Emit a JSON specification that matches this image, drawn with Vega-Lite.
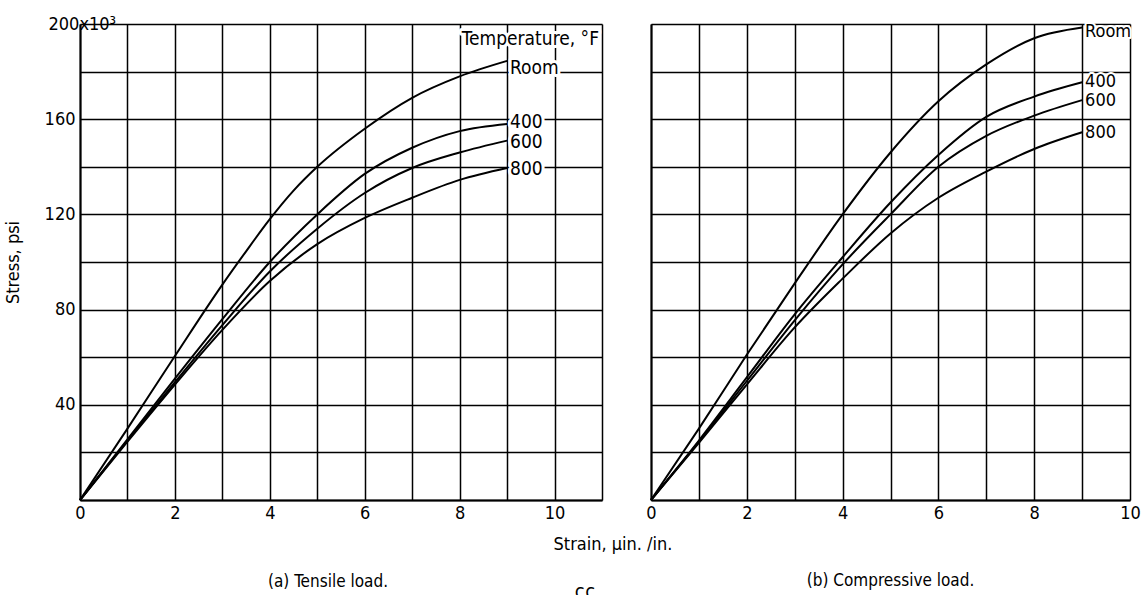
{
  "$schema": "https://vega.github.io/schema/vega-lite/v6.json",
  "background": "white",
  "padding": {"left": 4, "top": 15, "right": 5, "bottom": 0},
  "config": {
    "font": "Liberation Sans Narrow, DejaVu Sans Condensed, sans-serif",
    "view": {"stroke": null},
    "axis": {
      "grid": true,
      "gridColor": "black",
      "gridOpacity": 1,
      "gridWidth": 1.5,
      "domainColor": "black",
      "domainWidth": 2,
      "ticks": false,
      "tickSize": 0,
      "labelColor": "black",
      "labelFontSize": 18,
      "labelFlush": false,
      "labelOverlap": false,
      "titleColor": "black",
      "titleFontSize": 18,
      "titleFontWeight": "normal"
    },
    "title": {"fontWeight": "normal", "color": "black"}
  },
  "datasets": {
    "curves": [
      {"panel": "a", "temp": "Room", "strain": 0, "stress": 0},
      {"panel": "a", "temp": "Room", "strain": 1, "stress": 30},
      {"panel": "a", "temp": "Room", "strain": 2, "stress": 60.5},
      {"panel": "a", "temp": "Room", "strain": 3, "stress": 90.5},
      {"panel": "a", "temp": "Room", "strain": 3.5, "stress": 104.5},
      {"panel": "a", "temp": "Room", "strain": 4, "stress": 118},
      {"panel": "a", "temp": "Room", "strain": 4.5, "stress": 130},
      {"panel": "a", "temp": "Room", "strain": 5, "stress": 140},
      {"panel": "a", "temp": "Room", "strain": 6, "stress": 156},
      {"panel": "a", "temp": "Room", "strain": 7, "stress": 169},
      {"panel": "a", "temp": "Room", "strain": 8, "stress": 178},
      {"panel": "a", "temp": "Room", "strain": 9, "stress": 184.5},
      {"panel": "a", "temp": "400", "strain": 0, "stress": 0},
      {"panel": "a", "temp": "400", "strain": 1, "stress": 25.5},
      {"panel": "a", "temp": "400", "strain": 2, "stress": 51},
      {"panel": "a", "temp": "400", "strain": 3, "stress": 76},
      {"panel": "a", "temp": "400", "strain": 4, "stress": 100},
      {"panel": "a", "temp": "400", "strain": 5, "stress": 120},
      {"panel": "a", "temp": "400", "strain": 6, "stress": 137},
      {"panel": "a", "temp": "400", "strain": 7, "stress": 148},
      {"panel": "a", "temp": "400", "strain": 8, "stress": 155},
      {"panel": "a", "temp": "400", "strain": 9, "stress": 158},
      {"panel": "a", "temp": "600", "strain": 0, "stress": 0},
      {"panel": "a", "temp": "600", "strain": 1, "stress": 25},
      {"panel": "a", "temp": "600", "strain": 2, "stress": 49.5},
      {"panel": "a", "temp": "600", "strain": 3, "stress": 73.5},
      {"panel": "a", "temp": "600", "strain": 4, "stress": 96},
      {"panel": "a", "temp": "600", "strain": 5, "stress": 114},
      {"panel": "a", "temp": "600", "strain": 6, "stress": 129},
      {"panel": "a", "temp": "600", "strain": 7, "stress": 139.5},
      {"panel": "a", "temp": "600", "strain": 8, "stress": 146},
      {"panel": "a", "temp": "600", "strain": 9, "stress": 151},
      {"panel": "a", "temp": "800", "strain": 0, "stress": 0},
      {"panel": "a", "temp": "800", "strain": 1, "stress": 24.5},
      {"panel": "a", "temp": "800", "strain": 2, "stress": 48.5},
      {"panel": "a", "temp": "800", "strain": 3, "stress": 71.5},
      {"panel": "a", "temp": "800", "strain": 4, "stress": 92},
      {"panel": "a", "temp": "800", "strain": 5, "stress": 107.5},
      {"panel": "a", "temp": "800", "strain": 6, "stress": 118.5},
      {"panel": "a", "temp": "800", "strain": 7, "stress": 127},
      {"panel": "a", "temp": "800", "strain": 8, "stress": 134.5},
      {"panel": "a", "temp": "800", "strain": 9, "stress": 139.5},
      {"panel": "b", "temp": "Room", "strain": 0, "stress": 0},
      {"panel": "b", "temp": "Room", "strain": 1, "stress": 30},
      {"panel": "b", "temp": "Room", "strain": 2, "stress": 61},
      {"panel": "b", "temp": "Room", "strain": 3, "stress": 91},
      {"panel": "b", "temp": "Room", "strain": 4, "stress": 120},
      {"panel": "b", "temp": "Room", "strain": 5, "stress": 146},
      {"panel": "b", "temp": "Room", "strain": 6, "stress": 167.5},
      {"panel": "b", "temp": "Room", "strain": 7, "stress": 183},
      {"panel": "b", "temp": "Room", "strain": 8, "stress": 194},
      {"panel": "b", "temp": "Room", "strain": 9, "stress": 198.5},
      {"panel": "b", "temp": "400", "strain": 0, "stress": 0},
      {"panel": "b", "temp": "400", "strain": 1, "stress": 25},
      {"panel": "b", "temp": "400", "strain": 2, "stress": 51.5},
      {"panel": "b", "temp": "400", "strain": 3, "stress": 78},
      {"panel": "b", "temp": "400", "strain": 4, "stress": 102},
      {"panel": "b", "temp": "400", "strain": 5, "stress": 125},
      {"panel": "b", "temp": "400", "strain": 6, "stress": 145},
      {"panel": "b", "temp": "400", "strain": 7, "stress": 161},
      {"panel": "b", "temp": "400", "strain": 8, "stress": 169.5},
      {"panel": "b", "temp": "400", "strain": 9, "stress": 175.5},
      {"panel": "b", "temp": "600", "strain": 0, "stress": 0},
      {"panel": "b", "temp": "600", "strain": 1, "stress": 24.5},
      {"panel": "b", "temp": "600", "strain": 2, "stress": 50},
      {"panel": "b", "temp": "600", "strain": 3, "stress": 75.5},
      {"panel": "b", "temp": "600", "strain": 4, "stress": 99},
      {"panel": "b", "temp": "600", "strain": 5, "stress": 120},
      {"panel": "b", "temp": "600", "strain": 6, "stress": 140},
      {"panel": "b", "temp": "600", "strain": 7, "stress": 153},
      {"panel": "b", "temp": "600", "strain": 8, "stress": 161.5},
      {"panel": "b", "temp": "600", "strain": 9, "stress": 168},
      {"panel": "b", "temp": "800", "strain": 0, "stress": 0},
      {"panel": "b", "temp": "800", "strain": 1, "stress": 24},
      {"panel": "b", "temp": "800", "strain": 2, "stress": 48.5},
      {"panel": "b", "temp": "800", "strain": 3, "stress": 72.5},
      {"panel": "b", "temp": "800", "strain": 4, "stress": 93},
      {"panel": "b", "temp": "800", "strain": 5, "stress": 112},
      {"panel": "b", "temp": "800", "strain": 6, "stress": 127},
      {"panel": "b", "temp": "800", "strain": 7, "stress": 138},
      {"panel": "b", "temp": "800", "strain": 8, "stress": 147.5},
      {"panel": "b", "temp": "800", "strain": 9, "stress": 154.5}
    ],
    "labels": [
      {"panel": "a", "temp": "Room", "strain": 9, "stress": 181.7},
      {"panel": "a", "temp": "400", "strain": 9, "stress": 159},
      {"panel": "a", "temp": "600", "strain": 9, "stress": 150.4},
      {"panel": "a", "temp": "800", "strain": 9, "stress": 139},
      {"panel": "b", "temp": "Room", "strain": 9, "stress": 196.8},
      {"panel": "b", "temp": "400", "strain": 9, "stress": 175.8},
      {"panel": "b", "temp": "600", "strain": 9, "stress": 167.8},
      {"panel": "b", "temp": "800", "strain": 9, "stress": 154.4}
    ],
    "header": [
      {"panel": "a", "text": "Temperature, °F", "strain": 11, "stress": 193.7}
    ]
  },
  "title": {"text": "ςς", "orient": "bottom", "anchor": "middle", "fontSize": 20, "offset": -8, "dx": 13},
  "spacing": 49,
  "bounds": "flush",
  "hconcat": [
    {
      "width": 522,
      "height": 476,
      "title": {"text": "(a) Tensile load.", "orient": "bottom", "frame": "group", "offset": 21, "dx": -13, "fontSize": 17},
      "encoding": {
        "x": {
          "field": "strain", "type": "quantitative",
          "scale": {"domain": [0, 11], "nice": false, "zero": false},
          "axis": {
            "values": [0, 1, 2, 3, 4, 5, 6, 7, 8, 9, 10, 11],
            "labelExpr": "datum.value % 2 == 0 && datum.value <= 10 ? datum.label : ''",
            "labelPadding": 4,
            "title": "Strain, μin. /in.",
            "titleX": 473,
            "titleY": 35,
            "titleAlign": "left",
            "titleBaseline": "top"
          }
        },
        "y": {
          "field": "stress", "type": "quantitative",
          "scale": {"domain": [0, 200], "nice": false},
          "axis": {
            "values": [0, 20, 40, 60, 80, 100, 120, 140, 160, 180, 200],
            "labelExpr": "datum.value == 200 ? '200x10³' : (datum.value % 40 == 0 && datum.value > 0 ? datum.label : '')",
            "labelAlign": {"condition": {"test": "datum.value == 200", "value": "left"}, "value": "right"},
            "labelPadding": {"condition": {"test": "datum.value == 200", "value": 32}, "value": 5},
            "title": "Stress, psi",
            "titlePadding": 22
          }
        }
      },
      "layer": [
        {
          "data": {"name": "labels"},
          "transform": [{"filter": "datum.panel == 'a'"}],
          "mark": {"type": "text", "align": "left", "baseline": "middle", "dx": 3, "fontSize": 19, "fill": "white", "stroke": "white", "strokeWidth": 6, "strokeJoin": "round"},
          "encoding": {"text": {"field": "temp"}}
        },
        {
          "data": {"name": "header"},
          "transform": [{"filter": "datum.panel == 'a'"}],
          "mark": {"type": "text", "align": "right", "baseline": "middle", "dx": -3, "fontSize": 19, "fill": "white", "stroke": "white", "strokeWidth": 6, "strokeJoin": "round"},
          "encoding": {"text": {"field": "text"}}
        },
        {
          "data": {"name": "curves"},
          "transform": [{"filter": "datum.panel == 'a'"}],
          "mark": {"type": "line", "interpolate": "monotone", "color": "black", "strokeWidth": 2},
          "encoding": {"detail": {"field": "temp"}}
        },
        {
          "data": {"name": "labels"},
          "transform": [{"filter": "datum.panel == 'a'"}],
          "mark": {"type": "text", "align": "left", "baseline": "middle", "dx": 3, "fontSize": 19, "color": "black"},
          "encoding": {"text": {"field": "temp"}}
        },
        {
          "data": {"name": "header"},
          "transform": [{"filter": "datum.panel == 'a'"}],
          "mark": {"type": "text", "align": "right", "baseline": "middle", "dx": -3, "fontSize": 19, "color": "black"},
          "encoding": {"text": {"field": "text"}}
        }
      ]
    },
    {
      "width": 479,
      "height": 476,
      "title": {"text": "(b) Compressive load.", "orient": "bottom", "frame": "group", "offset": 51, "fontSize": 17},
      "encoding": {
        "x": {
          "field": "strain", "type": "quantitative",
          "scale": {"domain": [0, 10], "nice": false, "zero": false},
          "axis": {
            "values": [0, 1, 2, 3, 4, 5, 6, 7, 8, 9, 10],
            "labelExpr": "datum.value % 2 == 0 ? datum.label : ''",
            "labelPadding": 4,
            "title": null
          }
        },
        "y": {
          "field": "stress", "type": "quantitative",
          "scale": {"domain": [0, 200], "nice": false},
          "axis": {
            "values": [0, 20, 40, 60, 80, 100, 120, 140, 160, 180, 200],
            "labels": false,
            "title": null
          }
        }
      },
      "layer": [
        {
          "data": {"name": "labels"},
          "transform": [{"filter": "datum.panel == 'b'"}],
          "mark": {"type": "text", "align": "left", "baseline": "middle", "dx": 3, "fontSize": 18, "fill": "white", "stroke": "white", "strokeWidth": 4, "strokeJoin": "round"},
          "encoding": {"text": {"field": "temp"}}
        },
        {
          "data": {"name": "curves"},
          "transform": [{"filter": "datum.panel == 'b'"}],
          "mark": {"type": "line", "interpolate": "monotone", "color": "black", "strokeWidth": 2},
          "encoding": {"detail": {"field": "temp"}}
        },
        {
          "data": {"name": "labels"},
          "transform": [{"filter": "datum.panel == 'b'"}],
          "mark": {"type": "text", "align": "left", "baseline": "middle", "dx": 3, "fontSize": 18, "color": "black"},
          "encoding": {"text": {"field": "temp"}}
        }
      ]
    }
  ]
}
